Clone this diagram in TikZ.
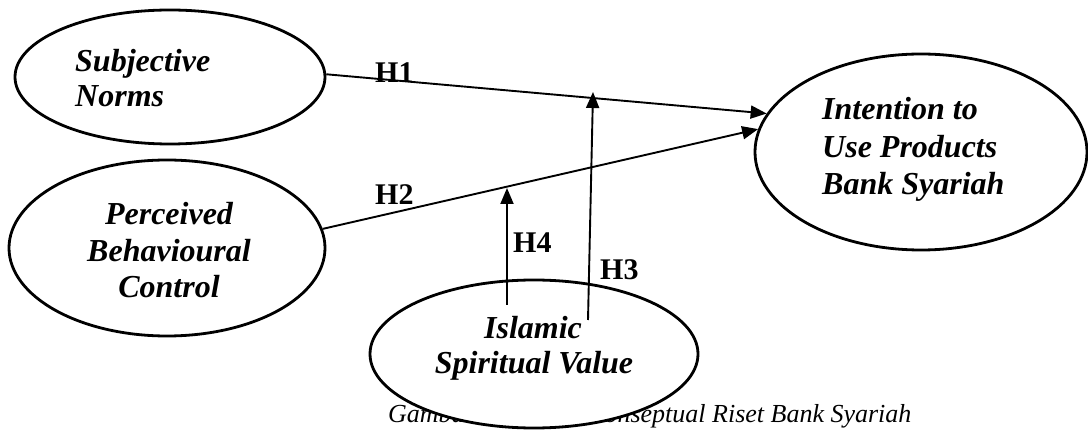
\documentclass[tikz,border=0pt]{standalone}
\usepackage{fontspec}
\setmainfont{Liberation Serif}
\usetikzlibrary{arrows.meta,shapes.geometric}
\begin{document}
\begin{tikzpicture}[x=1pt,y=-1pt,
  oval/.style={draw,ellipse,line width=2.8pt,fill=white,inner sep=0pt},
  lbl/.style={font=\fontsize{32}{38}\selectfont\bfseries\itshape,inner sep=0pt},
  hyp/.style={font=\fontsize{30}{36}\selectfont\bfseries,inner sep=0pt,anchor=base west},
  captext/.style={font=\fontsize{26}{30}\selectfont\itshape,inner sep=0pt,anchor=base west},
  arr/.style={line width=1.9pt,-{Triangle[length=16pt,width=13pt]}},
]
\fill[white] (0,0) rectangle (1088,430);
\useasboundingbox (0,0) rectangle (1088,430);
% caption (partly behind the Islamic Spiritual Value ellipse)
\node[captext] (cap1) at (388,423) {Gambar};
\node[captext] (cap2) at (587,423) {Konseptual Riset Bank Syariah};
% ellipses
\node[oval,minimum width=310pt,minimum height=134pt] (sn) at (170,77) {};
\node[oval,minimum width=316pt,minimum height=176pt] (pbc) at (167,248) {};
\node[oval,minimum width=332pt,minimum height=196pt] (int) at (921,152) {};
\node[oval,minimum width=328pt,minimum height=148pt] (isv) at (534,354) {};
% connectors
\coordinate (h3s) at (588,320);
\coordinate (h3e) at (593,92);
\coordinate (h4s) at (507,305);
\coordinate (h4e) at (507,188);
\draw[arr] (sn.1.5) -- (int.166.5);
\draw[arr] (pbc.7) -- (int.172.7);
\draw[arr] (h3s) -- (h3e);
\draw[arr] (h4s) -- (h4e);
% labels
\node[lbl,anchor=base west] (sn1) at (75,72) {Subjective};
\node[lbl,anchor=base west] (sn2) at (75,107) {Norms};
\node[lbl,anchor=base] (pbc1) at (169,225) {Perceived};
\node[lbl,anchor=base] (pbc2) at (169,262) {Behavioural};
\node[lbl,anchor=base] (pbc3) at (169,298) {Control};
\node[lbl,anchor=base west] (int1) at (822,120) {Intention to};
\node[lbl,anchor=base west] (int2) at (822,158) {Use Products};
\node[lbl,anchor=base west] (int3) at (822,195) {Bank Syariah};
\node[lbl,anchor=base] (isv1) at (533,339) {Islamic};
\node[lbl,anchor=base] (isv2) at (534,374) {Spiritual Value};
\node[hyp] (H1) at (375,83) {H1};
\node[hyp] (H2) at (375,205) {H2};
\node[hyp] (H4) at (513,253) {H4};
\node[hyp] (H3) at (600,280) {H3};
\end{tikzpicture}
\end{document}
